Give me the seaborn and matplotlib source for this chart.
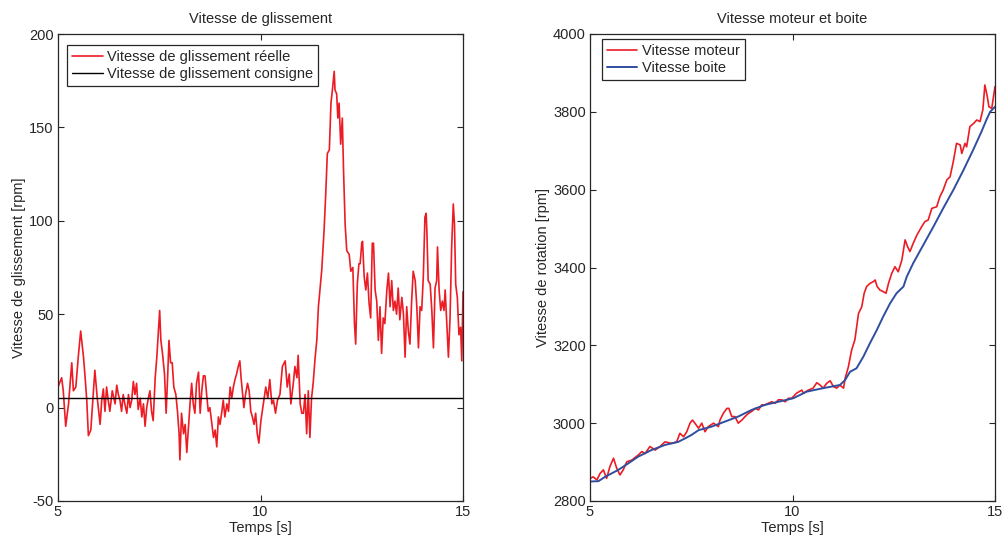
import matplotlib
matplotlib.use("Agg")
import matplotlib.pyplot as plt
import pandas as pd
import seaborn as sns

# ---------------- data ----------------
slip_t_a = [5.00, 5.09, 5.13, 5.19, 5.26, 5.34, 5.38, 5.44, 5.50, 5.56,
            5.63, 5.67, 5.71, 5.75, 5.81, 5.86, 5.91, 5.97, 6.04, 6.08,
            6.12, 6.16, 6.20, 6.24, 6.28, 6.34, 6.41, 6.45, 6.49, 6.53,
            6.57, 6.61, 6.65, 6.70, 6.74, 6.78, 6.82, 6.86, 6.90, 6.94,
            6.98, 7.03, 7.07, 7.11, 7.15, 7.19, 7.23, 7.27, 7.31, 7.35,
            7.40, 7.44, 7.48, 7.51]
slip_v_a = [11, 16, 9, -10, 2, 24, 9, 11, 27, 41,
            27, 16, 4, -15, -12, 4, 20, 5, -9, 4,
            10, -2, 11, 4, -2, 9, 2, 12, 7, 4,
            -2, 7, 2, -3, 7, 0, 4, 14, 7, 13,
            -1, 5, -5, 2, -10, 0, 5, 9, -2, -7,
            16, 27, 41, 52]
slip_t_b = [7.54, 7.58, 7.63, 7.67, 7.71, 7.74, 7.78, 7.82, 7.86, 7.91,
            7.95, 7.99, 8.01, 8.05, 8.10, 8.14, 8.18, 8.22, 8.26, 8.30,
            8.34, 8.38, 8.42, 8.47, 8.51, 8.55, 8.59, 8.63, 8.67, 8.71,
            8.75, 8.79, 8.84, 8.88, 8.92, 8.96, 9.00, 9.04, 9.08, 9.12,
            9.17, 9.21, 9.25, 9.29, 9.33, 9.37, 9.41, 9.45, 9.49, 9.52,
            9.55, 9.59, 9.63, 9.68, 9.72, 9.76, 9.80, 9.84, 9.88, 9.92,
            9.96]
slip_v_b = [36, 29, 18, -3, 18, 36, 24, 24, 11, 7,
            -2, -14, -28, -3, -14, -9, -24, -11, 2, 13,
            2, -3, 13, 19, -3, 9, 17, 17, 7, -2,
            0, -7, -16, -12, -21, -5, -9, -3, 4, -5,
            2, -2, 11, 5, 11, 15, 18, 22, 25, 16,
            9, 0, 7, 13, 9, -2, -5, -9, -3, -14,
            -19]
slip_t_c = [10.01, 10.07, 10.13, 10.18, 10.23, 10.28, 10.32, 10.37, 10.42, 10.48,
            10.54, 10.61, 10.66, 10.71, 10.75, 10.81, 10.85, 10.90, 10.93, 10.98,
            11.02, 11.06, 11.10, 11.14, 11.18, 11.22, 11.26, 11.30, 11.35, 11.39,
            11.43, 11.51, 11.57, 11.61, 11.65, 11.70, 11.74, 11.78, 11.82, 11.84,
            11.88, 11.91, 11.94, 11.98, 12.02, 12.05, 12.09, 12.13, 12.19, 12.23,
            12.28, 12.32, 12.35, 12.39, 12.43]
slip_v_c = [-7, 2, 11, 5, 15, 2, 4, -3, 4, 7,
            22, 25, 11, 18, 2, 13, 22, 16, 28, 2,
            -3, -3, 7, -14, 9, -16, 5, 13, 27, 36,
            54, 73, 95, 114, 136, 138, 163, 171, 180, 170,
            168, 155, 163, 141, 155, 127, 98, 84, 82, 73,
            75, 45, 34, 66, 77]
slip_t_d = [12.46, 12.50, 12.52, 12.56, 12.60, 12.64, 12.68, 12.72, 12.76, 12.79,
            12.83, 12.87, 12.91, 12.95, 12.99, 13.03, 13.07, 13.12, 13.16, 13.20,
            13.24, 13.28, 13.32, 13.36, 13.40, 13.44, 13.49, 13.53, 13.57, 13.61,
            13.65, 13.69, 13.73, 13.77, 13.82, 13.86, 13.90, 13.94, 13.98, 14.02,
            14.06, 14.09, 14.11, 14.14, 14.19, 14.23, 14.27, 14.31, 14.35, 14.37,
            14.41, 14.45, 14.49, 14.53, 14.56, 14.60, 14.64, 14.68, 14.72, 14.76,
            14.79, 14.82, 14.86, 14.90, 14.94, 14.97, 15.00]
slip_v_d = [77, 88, 89, 70, 63, 72, 56, 48, 88, 88,
            63, 57, 36, 54, 29, 48, 45, 63, 72, 54,
            68, 52, 57, 50, 64, 47, 59, 50, 27, 54,
            41, 34, 56, 73, 68, 54, 32, 54, 52, 70,
            102, 104, 93, 68, 66, 52, 32, 64, 68, 86,
            63, 52, 57, 52, 63, 45, 27, 48, 86, 109,
            98, 66, 59, 39, 43, 25, 62]

consigne_t = [5, 15]
consigne_v = [5, 5]

boite_t = [5.00, 5.21, 5.37, 5.70, 5.95, 6.19, 6.52, 6.85, 7.18, 7.35,
           7.51, 7.68, 8.00, 8.33, 8.66, 8.99, 9.32, 9.65, 10.02, 10.35,
           10.76, 11.17, 11.30, 11.42, 11.58, 11.75, 11.91, 12.08, 12.24, 12.41,
           12.57, 12.74, 12.82, 12.98, 13.23, 13.48, 13.72, 13.97, 14.22, 14.46,
           14.67, 14.79, 14.88, 15.00]
boite_v = [2850, 2851, 2862, 2880, 2897, 2914, 2931, 2944, 2952, 2961,
           2970, 2982, 2991, 3004, 3017, 3034, 3047, 3055, 3064, 3081,
           3090, 3098, 3111, 3132, 3141, 3171, 3205, 3239, 3274, 3308,
           3334, 3351, 3376, 3411, 3458, 3505, 3552, 3599, 3650, 3702,
           3750, 3780, 3800, 3813]

moteur_t = [5.00, 5.08, 5.17, 5.25, 5.33, 5.41, 5.49, 5.58, 5.66, 5.74,
            5.82, 5.91, 6.03, 6.19, 6.28, 6.36, 6.48, 6.61, 6.73, 6.85,
            7.02, 7.14, 7.22, 7.31, 7.39, 7.47, 7.53, 7.59, 7.68, 7.76,
            7.84, 7.92, 8.05, 8.17, 8.21, 8.29, 8.38, 8.43, 8.50, 8.58,
            8.66, 8.75, 8.83, 8.91, 8.99, 9.08, 9.16, 9.24, 9.32, 9.40,
            9.49, 9.57, 9.65, 9.73, 9.82, 9.90, 9.98,
            10.10, 10.23, 10.27, 10.39, 10.51, 10.60, 10.68, 10.76, 10.84, 10.93,
            11.01, 11.09, 11.17, 11.26, 11.30, 11.38, 11.46, 11.54, 11.63, 11.71,
            11.77, 11.83, 11.91, 12.00, 12.04, 12.09, 12.16, 12.24, 12.31, 12.37,
            12.45, 12.53, 12.61, 12.70, 12.78, 12.84, 12.90, 12.98, 13.07, 13.19,
            13.27, 13.35, 13.44, 13.56, 13.64, 13.72, 13.81, 13.89, 13.97, 14.05,
            14.14, 14.18, 14.26, 14.30, 14.38, 14.47, 14.55, 14.63, 14.70, 14.75,
            14.81, 14.85, 14.92, 15.00]
moteur_v = [2858, 2862, 2854, 2871, 2880, 2858, 2888, 2910, 2884, 2867,
            2880, 2901, 2905, 2918, 2927, 2922, 2940, 2931, 2940, 2952,
            2948, 2952, 2974, 2965, 2978, 3000, 3008, 3000, 2987, 3000,
            2978, 2991, 3000, 2991, 3008, 3025, 3038, 3038, 3017, 3017,
            3000, 3008, 3017, 3025, 3030, 3038, 3034, 3047, 3047, 3051,
            3055, 3051, 3060, 3060, 3055, 3064, 3064,
            3077, 3085, 3077, 3085, 3090, 3104, 3098, 3090, 3102, 3109,
            3094, 3090, 3098, 3090, 3115, 3145, 3188, 3214, 3282, 3299,
            3334, 3351, 3359, 3364, 3368, 3351, 3342, 3338, 3334, 3359,
            3385, 3402, 3389, 3419, 3471, 3454, 3441, 3462, 3483, 3505,
            3518, 3522, 3552, 3556, 3582, 3599, 3625, 3633, 3672, 3719,
            3715, 3693, 3719, 3710, 3762, 3770, 3779, 3775, 3805, 3869,
            3839, 3813, 3809, 3865]

x_ticks = [5, 10, 15]
left_yticks = [-50, 0, 50, 100, 150, 200]
right_yticks = [2800, 3000, 3200, 3400, 3600, 3800, 4000]

slip_t = slip_t_a + slip_t_b + slip_t_c + slip_t_d
slip_v = slip_v_a + slip_v_b + slip_v_c + slip_v_d

# ---------------- style ----------------
sns.set_theme(style="ticks")
plt.rcParams['font.family'] = ['Liberation Sans', 'DejaVu Sans']
plt.rcParams['font.size'] = 10
plt.rcParams['axes.unicode_minus'] = False

RED = "#EC1C24"
BLUE = "#2F4E9F"
TXT = "#262626"
FS = 10.5

fig = plt.figure(figsize=(10.04, 5.40), dpi=100)
fig.patch.set_facecolor("white")
W, H = 1004, 540
ax1 = fig.add_axes([58 / W, 1 - 501 / H, 405 / W, 467 / H])
ax2 = fig.add_axes([590 / W, 1 - 501 / H, 405 / W, 467 / H])

df_slip = pd.DataFrame({"t": slip_t, "v": slip_v})
df_cons = pd.DataFrame({"t": consigne_t, "v": consigne_v})
df_mot = pd.DataFrame({"t": moteur_t, "v": moteur_v})
df_boi = pd.DataFrame({"t": boite_t, "v": boite_v})

sns.lineplot(data=df_slip, x="t", y="v", ax=ax1, color=RED, linewidth=1.2,
             estimator=None, sort=False, label="Vitesse de glissement réelle")
sns.lineplot(data=df_cons, x="t", y="v", ax=ax1, color="black", linewidth=1.0,
             estimator=None, sort=False, label="Vitesse de glissement consigne")

sns.lineplot(data=df_mot, x="t", y="v", ax=ax2, color=RED, linewidth=1.2,
             estimator=None, sort=False, label="Vitesse moteur")
sns.lineplot(data=df_boi, x="t", y="v", ax=ax2, color=BLUE, linewidth=1.4,
             estimator=None, sort=False, label="Vitesse boite")

for ax, yt in ((ax1, left_yticks), (ax2, right_yticks)):
    ax.set_xlim(5, 15)
    ax.set_ylim(yt[0], yt[-1])
    ax.set_xticks(x_ticks)
    ax.set_yticks(yt)
    ax.set_facecolor("white")
    ax.tick_params(direction="in", top=True, right=True, length=4, width=0.8,
                   labelsize=FS, colors=TXT, pad=3)
    for s in ax.spines.values():
        s.set_visible(True)
        s.set_color(TXT)
        s.set_linewidth(0.9)
    ax.set_xlabel("Temps [s]", fontsize=FS, labelpad=1, color=TXT)
    ax.grid(False)

ax1.set_ylabel("Vitesse de glissement [rpm]", fontsize=FS, labelpad=2, color=TXT)
ax2.set_ylabel("Vitesse de rotation [rpm]", fontsize=FS, labelpad=2, color=TXT)
ax1.set_title("Vitesse de glissement", fontsize=FS, pad=8, color=TXT)
ax2.set_title("Vitesse moteur et boite", fontsize=FS, pad=8, color=TXT)

leg_kw = dict(loc="upper left", frameon=True, fancybox=False, framealpha=1,
              edgecolor=TXT, fontsize=FS, borderaxespad=0,
              handlelength=2.1, handletextpad=0.3, borderpad=0.35,
              labelspacing=0.2)
l1 = ax1.legend(bbox_to_anchor=(0.022, 0.976), **leg_kw)
l2 = ax2.legend(bbox_to_anchor=(0.029, 0.989), **leg_kw)
for lg in (l1, l2):
    lg.get_frame().set_linewidth(0.9)
    for t in lg.get_texts():
        t.set_color(TXT)

fig.savefig("out.png", dpi=100, facecolor="white")
